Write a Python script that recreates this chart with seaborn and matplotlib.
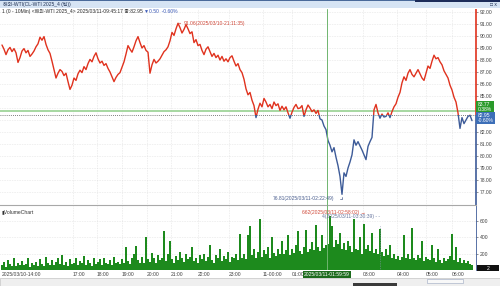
import numpy as np
import pandas as pd
import matplotlib
matplotlib.use('Agg')
import matplotlib.pyplot as plt
import matplotlib.transforms as mtrans
from matplotlib.patches import Rectangle
import seaborn as sns

# ---------------- data ----------------
price = [
    89.25, 88.9, 88.45, 88.85, 89.05, 88.7, 88.95, 88.6, 87.8, 88.2,
    88.75, 88.95, 88.6, 88.8, 88.3, 88.5, 88.75, 89.1, 89.35, 89.9,
    89.65, 89.95, 89.3, 88.85, 88.55, 87.9, 87.2, 86.5, 86.9, 87.2,
    87.05, 86.7, 86.9, 86.2, 85.55, 85.9, 86.5, 86.3, 86.85, 87.15,
    86.95, 87.45, 87.2, 87.7, 88.05, 87.85, 88.3, 88.6, 88.1, 87.75,
    87.9, 87.55, 87.7, 87.3, 87.0, 86.6, 86.2, 86.55, 86.8, 86.95,
    87.4, 87.85, 88.5, 89.2, 88.9, 88.65, 89.1, 89.6, 89.95, 89.45,
    89.0, 89.2, 88.8, 88.65, 86.9, 87.6, 88.05, 87.75, 87.9, 88.1,
    88.4, 88.7, 88.85, 89.1, 89.6, 90.3, 90.05, 90.6, 91.06, 90.7,
    90.25, 90.55, 90.95, 90.6, 90.2, 90.35, 89.45, 89.7, 89.2, 89.3,
    88.8, 88.45, 88.9, 89.1, 88.7, 88.3, 88.55, 88.2, 88.4, 88.0,
    88.3, 87.9, 88.1, 87.85, 88.2, 88.35, 87.9, 87.5, 87.7, 87.2,
    86.95, 86.4, 85.6, 85.1, 85.3, 84.65, 84.2, 83.2, 83.9, 84.4,
    84.1, 84.8, 84.5, 84.1, 84.3, 83.95, 84.5, 84.2, 84.35, 83.8,
    84.15, 83.85, 84.1, 83.6, 83.15, 83.65, 84.05, 84.3, 83.95, 84.0,
    84.2, 83.3, 83.85, 84.25, 84.0, 83.7, 83.85, 83.55, 83.8, 83.1,
    83.0, 82.5, 82.2, 81.3, 80.9, 80.35, 80.7, 79.9, 79.2, 78.3,
    76.81, 78.6, 78.3, 79.0, 79.5, 80.1, 81.35, 80.9, 81.2, 80.85,
    80.5, 80.1, 79.7, 80.8, 81.2, 81.55, 83.85, 84.3, 83.6, 83.15,
    83.5, 83.25, 83.3, 83.6, 83.2, 83.7, 84.1, 84.35, 84.9, 85.3,
    86.1, 86.6, 86.3, 86.9, 87.2, 86.8, 86.6, 86.9, 87.2, 86.85,
    86.5, 86.3, 86.9, 87.5, 87.3, 87.9, 88.4, 88.1, 88.2, 87.85,
    87.6, 87.1, 86.8, 86.5, 85.9, 85.5, 84.9, 84.5, 83.6, 82.3,
    83.2, 82.7, 83.0, 83.3, 83.4, 82.95,
]

volume = [
    60, 95, 40, 120, 70, 50, 140, 45, 80, 60,
    110, 55, 75, 150, 40, 90, 65, 100, 50, 130,
    70, 45, 160, 85, 55, 120, 60, 95, 140, 75,
    180, 60, 100, 50, 130, 70, 90, 150, 55, 110,
    80, 165, 60, 120, 90, 50, 140, 70, 100, 130,
    60, 150, 90, 70, 120, 55, 160, 80, 100, 75,
    130, 90, 280, 110, 70, 150, 200, 290, 120, 90,
    160, 80, 400, 130, 100, 210, 140, 90, 180, 120,
    150, 475, 110, 200, 350, 130, 90, 170, 120, 220,
    140, 100, 190, 130, 160, 280, 110, 150, 90, 180,
    130, 200, 110, 160, 300, 120, 90, 180, 140, 250,
    110, 170, 130, 220, 100, 160, 140, 190, 120, 440,
    150, 200, 130, 420, 540, 180, 250, 140, 220, 620,
    160, 240, 190, 280, 150, 400, 210, 170, 260, 190,
    350, 200, 240, 430, 180, 260, 210, 300, 470, 230,
    200, 280, 490, 220, 260, 340, 240, 550, 280, 230,
    420, 270, 300, 320, 662, 540, 280, 360, 310, 450,
    260, 330, 240, 350, 290, 220, 620, 260, 240, 400,
    200, 560, 250, 300, 230, 450, 210, 260, 190, 500,
    220, 170, 250, 180, 300, 150, 200, 130, 170, 120,
    160, 420, 140, 190, 130, 510, 150, 120, 180, 140,
    350, 110, 160, 130, 120, 300, 140, 100, 250, 120,
    90, 150, 110, 130, 170, 440, 120, 280, 100, 140,
    90, 120, 80, 110, 70, 60,
]

tick_pos = [0, 35.5, 47.5, 60, 72.5, 84.5, 98, 113.5, 130.5, 145, 180.5, 197.5, 212, 225]
tick_labels = ["2025/03/10-14:00", "17:00", "18:00", "19:00", "20:00", "21:00", "22:00",
               "23:00", "11-00:00", "01:00", "03:00", "04:00", "05:00", "06:00"]
price_grid = [77, 78, 79, 80, 81, 82, 83, 84, 85, 86, 87, 88, 89, 90, 91, 92]
price_ticks = [77, 78, 79, 80, 81, 82, 85, 86, 87, 88, 89, 90, 91, 92]
vol_ticks = [200, 400, 600]

open_price = 83.77
prev_close = 83.45
last_price = 82.95
max_idx, max_label = 88, "91.06(2025/03/10-21:11:35)"
min_idx, min_label = 170, "76.81(2025/03/11-02:22:49)"
vmax_idx, vmax_label = 164, "662(2025/03/11-02:58:02)"
vmark_idx, vmark_label = 189, "4(2025/03/11-03:30:39)"
cross_idx, cross_label = 162.5, "2025/03/11-01:59:59"
title_text = "해외-WTI(CL-WTI 2025_4 (틱))"
info_text = "1 (0 - 10Min) <해외-WTI 2025_4> 2025/03/11-09:45:17 종:82.95 "
info_chg = "▼0.50  -0.60%"

RED = '#e0321e'
BLUE = '#3d5b98'
GREEN = '#1d8a1d'
GRID = '#cfcfcf'
TXT = '#404040'

# ---------------- figure ----------------
sns.set_theme(style='white')
plt.rcParams['font.family'] = ['Liberation Sans Narrow', 'Liberation Sans', 'DejaVu Sans',
                               'Noto Sans CJK KR']
FS = 3.6

W, H = 500, 286
fig = plt.figure(figsize=(5, 2.86), dpi=100)
fig.patch.set_facecolor('white')

def fy(py):
    return 1 - py / H

ax = fig.add_axes([0, fy(205), 476 / W, (205 - 9) / H])
axv = fig.add_axes([0, fy(270), 476 / W, (270 - 205) / H], sharex=ax)

n = len(price)
df = pd.DataFrame({'i': np.arange(n), 'price': price, 'volume': volume})
xmin, xmax = -1, 237
ymin, ymax = 75.92, 92.25

# price line: red above previous close, blue below
sns.lineplot(data=df, x='i', y='price', ax=ax, color=RED, lw=1.0, estimator=None, sort=False)
sns.lineplot(data=df, x='i', y='price', ax=ax, color=BLUE, lw=1.0, estimator=None, sort=False)
l_red, l_blue = ax.get_lines()[-2:]
l_red.set_clip_path(Rectangle((xmin, prev_close), xmax - xmin, 50, transform=ax.transData))
l_blue.set_clip_path(Rectangle((xmin, 60), xmax - xmin, prev_close - 60, transform=ax.transData))

ax.set_xlim(xmin, xmax)
ax.set_ylim(ymin, ymax)
ax.axhline(open_price, color='#9fd49a', lw=1.3, zorder=1)
ax.axhline(prev_close, color='#555555', lw=0.6, ls=(0, (1, 1.5)), zorder=1)
for p in price_grid:
    ax.axhline(p, color=GRID, lw=0.4, ls=(0, (1, 2)), zorder=0)
for t in tick_pos[1:]:
    ax.axvline(t, color=GRID, lw=0.4, ls=(0, (1, 2)), zorder=0)
    axv.axvline(t, color=GRID, lw=0.4, ls=(0, (1, 2)), zorder=0)
ax.axvline(cross_idx, color='#6fb56f', lw=0.7, zorder=3)

ax.yaxis.tick_right()
ax.set_yticks(price_ticks, [f"{p:.2f}" for p in price_ticks])
ax.tick_params(axis='y', labelsize=FS, colors=TXT, length=1.5, width=0.4, pad=1)
ax.tick_params(axis='x', bottom=False, labelbottom=False)
ax.set_xlabel('')
ax.set_ylabel('')
for s in ax.spines.values():
    s.set_visible(False)
# right axis line coloured like the series
ax.vlines(xmax, prev_close, ymax, color=RED, lw=1.2, clip_on=False, zorder=5)
ax.vlines(xmax, ymin, prev_close, color=BLUE, lw=1.2, clip_on=False, zorder=5)

# value boxes on the right
bt = mtrans.blended_transform_factory(ax.transAxes, ax.transData)
ax.text(1.004, open_price - 0.1, "83.77\n0.38%", transform=bt, fontsize=FS, color='white',
        va='bottom', ha='left', linespacing=0.9, zorder=6,
        bbox=dict(boxstyle='square,pad=0.3', fc='#2a9a2a', ec='none'))
ax.text(1.004, open_price - 0.2, "82.95\n-0.60%", transform=bt, fontsize=FS, color='white',
        va='top', ha='left', linespacing=0.9, zorder=6,
        bbox=dict(boxstyle='square,pad=0.3', fc='#3d6fb8', ec='none'))

# max / min annotations
ax.annotate(max_label, xy=(max_idx, price[max_idx]), xytext=(max_idx + 3, price[max_idx]),
            fontsize=FS, color='#d04a3a', va='center', ha='left',
            arrowprops=dict(arrowstyle='-', color='#d04a3a', lw=0.5))
ax.annotate(min_label, xy=(min_idx, price[min_idx]), xytext=(min_idx - 4, price[min_idx] - 0.35),
            fontsize=FS, color='#4b5f8f', va='center', ha='right',
            arrowprops=dict(arrowstyle='-', color='#4b5f8f', lw=0.5,
                            connectionstyle='angle,angleA=0,angleB=90,rad=0'))

# ---------------- volume ----------------
sns.histplot(data=df, x='i', weights='volume', discrete=True, ax=axv,
             color=GREEN, alpha=1, edgecolor='none', linewidth=0)
axv.set_ylim(0, 790)
axv.set_xlim(xmin, xmax)
for v in vol_ticks:
    axv.axhline(v, color=GRID, lw=0.4, ls=(0, (1, 2)), zorder=0)
axv.axvline(cross_idx, color='#6fb56f', lw=0.7, zorder=3)
axv.axvline(vmark_idx, ymax=0.7, color='#8a94b0', lw=0.5, ls=(0, (1, 1.5)), zorder=3)
axv.yaxis.tick_right()
axv.set_yticks(vol_ticks, [str(v) for v in vol_ticks])
axv.tick_params(axis='y', labelsize=FS, colors=TXT, length=1.5, width=0.4, pad=1)
axv.set_xticks(tick_pos, tick_labels)
axv.tick_params(axis='x', labelsize=FS, colors=TXT, length=0, pad=1.2)
for lab in axv.get_xticklabels():
    lab.set_ha('left')
axv.set_xlabel('')
axv.set_ylabel('')
for s in axv.spines.values():
    s.set_visible(False)
axv.spines['top'].set_visible(True)
axv.spines['top'].set_color('#a8a8a8')
axv.spines['top'].set_linewidth(0.8)
axv.spines['right'].set_visible(True)
axv.spines['right'].set_color('#3d5b98')
axv.spines['right'].set_linewidth(0.6)

axv.text(0.004, 0.93, "▮VolumeChart", transform=axv.transAxes, fontsize=FS, color='#303030',
         va='top', ha='left')
axv.annotate(vmax_label + " →", xy=(vmax_idx, 662), xytext=(150, 700), fontsize=FS,
             color='#d04a3a', va='center', ha='left')
axv.text(vmark_idx, 645, vmark_label + " - -", fontsize=FS, color='#6a78a0',
         va='center', ha='right')

# highlighted x position label
bx = mtrans.blended_transform_factory(axv.transData, axv.transAxes)
axv.text(cross_idx, -0.03, cross_label, transform=bx, fontsize=FS, color='white',
         va='top', ha='center', zorder=10,
         bbox=dict(boxstyle='square,pad=0.25', fc='#1d6b1d', ec='none'))

# ---------------- window chrome ----------------
fig.patches.append(Rectangle((0, fy(8)), 1, 8 / H, transform=fig.transFigure,
                             fc='#d6e4f4', ec='none', zorder=0))
fig.patches.append(Rectangle((0, fy(1)), 1, 1 / H, transform=fig.transFigure,
                             fc='#4a6a9a', ec='none', zorder=0))
fig.patches.append(Rectangle((415 / W, fy(2)), 85 / W, 2 / H, transform=fig.transFigure,
                             fc='#1c2c5a', ec='none', zorder=0))
fig.text(3 / W, fy(4.5), title_text, fontsize=FS, color='#223355', va='center', ha='left')
fig.text(490 / W, fy(4.5), "□ x", fontsize=FS, color='#223355', va='center', ha='left')
t1 = fig.text(2 / W, fy(11), info_text, fontsize=FS, color='#303030', va='center', ha='left')
fig.canvas.draw()
bb = t1.get_window_extent()
fig.text(bb.x1 / W, fy(11), info_chg, fontsize=FS, color='#3d5bb8', va='center', ha='left')

# bottom scrollbar
fig.patches.append(Rectangle((0, 0), 1, 8 / H, transform=fig.transFigure,
                             fc='#efefef', ec='#c4c4c4', lw=0.5, zorder=0))
fig.patches.append(Rectangle((353 / W, 0), 44 / W, 3 / H, transform=fig.transFigure,
                             fc='#3a3a3a', ec='none', zorder=1))
fig.patches.append(Rectangle((427 / W, 3 / H), 36 / W, 4 / H, transform=fig.transFigure,
                             fc='#f8f8f8', ec='#9aa6c0', lw=0.4, zorder=1))
fig.patches.append(Rectangle((477 / W, fy(271)), 22 / W, 6 / H, transform=fig.transFigure,
                             fc='#111111', ec='none', zorder=1))
fig.text(488 / W, fy(268), "2", fontsize=FS, color='white', va='center', ha='center')

fig.savefig('out.png', dpi=100, facecolor='white')
